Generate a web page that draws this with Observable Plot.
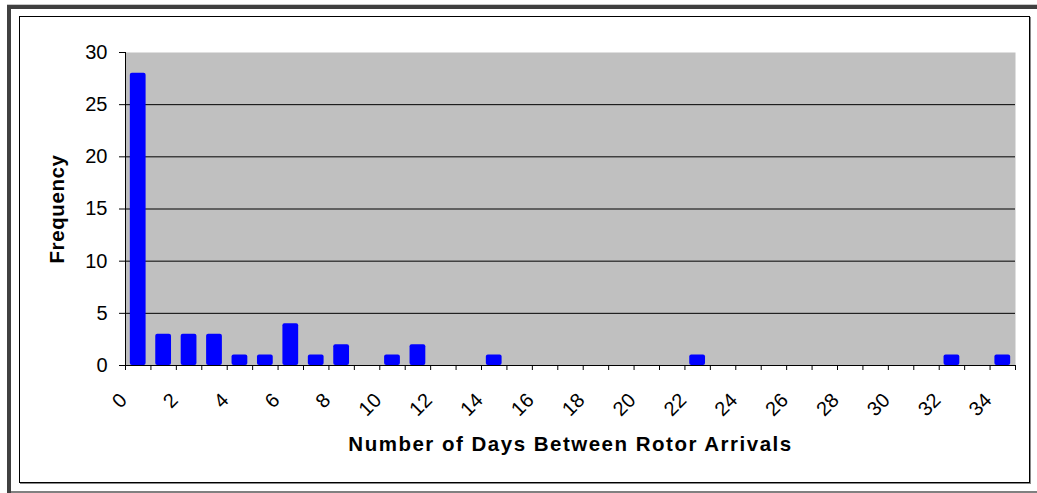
<!DOCTYPE html>
<html><head><meta charset="utf-8">
<script src="https://cdn.jsdelivr.net/npm/d3@7"></script>
<script src="https://cdn.jsdelivr.net/npm/@observablehq/plot@0.6"></script>
<style>
body{margin:0;background:#fff;}
#wrap{position:relative;width:1037px;height:493px;overflow:hidden;font-family:Arial,"Liberation Sans",sans-serif;}
.deco{position:absolute;box-sizing:content-box;}
#chart{position:absolute;left:0;top:0;}
</style></head><body>
<div id="wrap">
<div class="deco" style="left:7px;top:4px;width:1030px;height:1px;background:#c8c8c8"></div>
<div class="deco" style="left:7px;top:5px;width:1030px;height:4px;background:#404040"></div>
<div class="deco" style="left:7px;top:5px;width:4px;height:488px;background:#404040"></div>
<div class="deco" style="left:11px;top:491px;width:1026px;height:2px;background:#808080"></div>
<div class="deco" style="left:19px;top:16px;width:1009px;height:465px;border:1px solid #000;box-shadow:1px 1px 0 #888;background:#fff"></div>
<div id="chart"></div>
</div>
<script>
const days  = [0,1,2,3,4,5,6,7,8,9,10,11,12,13,14,15,16,17,18,19,20,21,22,23,24,25,26,27,28,29,30,31,32,33,34];
const freqs = [28,3,3,3,1,1,4,1,2,0,1,2,0,0,1,0,0,0,0,0,0,0,1,0,0,0,0,0,0,0,0,0,1,0,1];
const xTickLabels = ["0","2","4","6","8","10","12","14","16","18","20","22","24","26","28","30","32","34"];
const yTicks = [0,5,10,15,20,25,30];
const gridValues = [5,10,15,20,25];
const xTitle = "Number of Days Between Rotor Arrivals";
const yTitle = "Frequency";

const data = days.map((d, i) => ({day: d, freq: freqs[i]})).filter(d => d.freq > 0);
const boundaries = days.concat([days.length]);
const font = "Arial, 'Liberation Sans', sans-serif";

const chart = Plot.plot({
  width: 1037, height: 493,
  marginLeft: 125, marginRight: 22, marginTop: 52, marginBottom: 128,
  x: {domain: [0, days.length], axis: null, label: null},
  y: {domain: [0, 30], axis: null, label: null},
  style: {background: "transparent", fontFamily: font, color: "#000", overflow: "visible"},
  marks: [
    Plot.frame({fill: "#c0c0c0", stroke: null}),
    Plot.ruleY(gridValues, {stroke: "#000", strokeWidth: 1}),
    Plot.rectY(data, {x1: d => d.day + 0.19, x2: d => d.day + 0.81, y: "freq", fill: "#0000ff", rx: 2}),
    Plot.ruleY([0], {stroke: "#000"}),
    Plot.ruleX([0], {stroke: "#000"}),
    Plot.axisY({ticks: yTicks, tickSize: 6, tickPadding: 12, fontSize: 20, anchor: "left", label: null, tickFormat: d => String(d)}),
    Plot.axisX({ticks: boundaries, tickSize: 5, tickFormat: () => "", anchor: "bottom", label: null}),
    Plot.text(xTickLabels, {x: d => +d + 0.5, text: d => d, frameAnchor: "bottom", dx: -10, dy: 36, rotate: -45, textAnchor: "end", fontSize: 20, fill: "#000"}),
    Plot.text([xTitle], {text: d => d, frameAnchor: "bottom", lineAnchor: "middle", textAnchor: "middle", dy: 79, fontWeight: "bold", fontSize: 20.5, fill: "#000"}),
    Plot.text([yTitle], {text: d => d, frameAnchor: "left", lineAnchor: "middle", textAnchor: "middle", dx: -68, rotate: -90, fontWeight: "bold", fontSize: 20.5, fill: "#000"})
  ]
});
d3.select(chart).selectAll("text").each(function() {
  if (this.textContent === xTitle) this.setAttribute("letter-spacing", "1.5");
  if (this.textContent === yTitle) this.setAttribute("letter-spacing", "0.6");
});
document.getElementById("chart").appendChild(chart);
</script>
</body></html>
